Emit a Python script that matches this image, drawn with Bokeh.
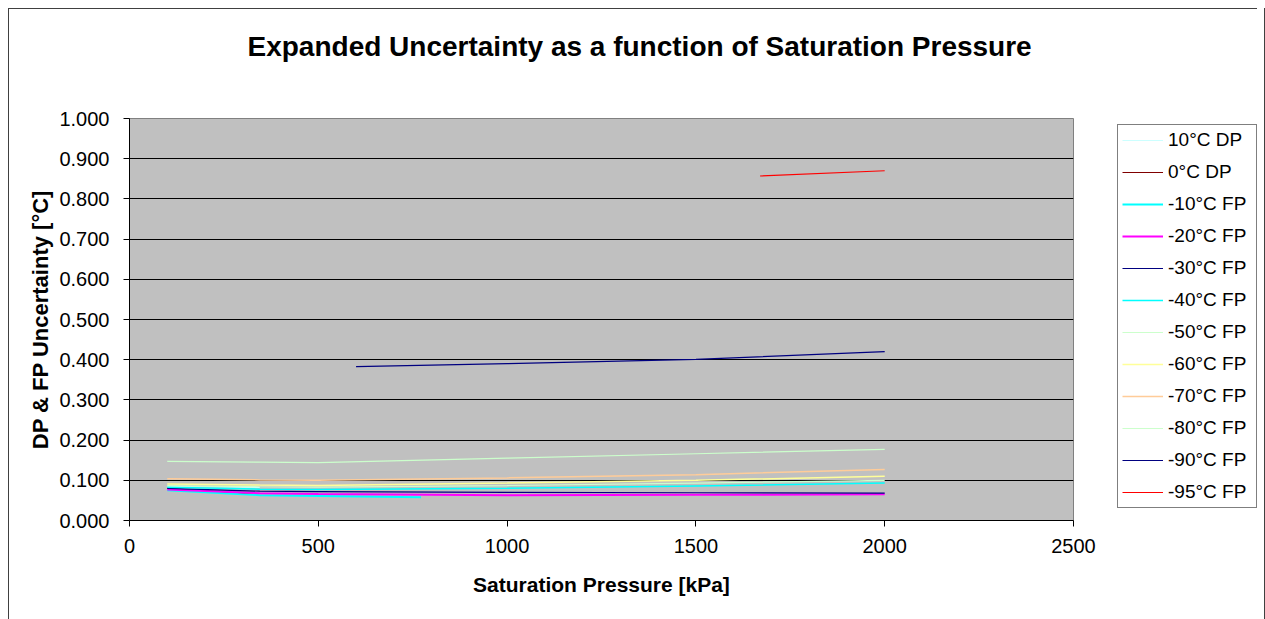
from bokeh.plotting import figure
from bokeh.models import (Range1d, NumeralTickFormatter, FixedTicker, Legend, LegendItem, Title)
from bokeh.layouts import row
from bokeh.embed import file_html
from bokeh.resources import INLINE

# ---------------- data ----------------
chart_title = "Expanded Uncertainty as a function of Saturation Pressure"
series_names = ["10°C DP", "0°C DP", "-10°C FP", "-20°C FP", "-30°C FP", "-40°C FP",
                "-50°C FP", "-60°C FP", "-70°C FP", "-80°C FP", "-90°C FP", "-95°C FP"]

x_10dp = [100, 345]
y_10dp = [0.085, 0.082]
x_0dp = [100, 328]
y_0dp = [0.080, 0.065]
x_m10 = [100, 345, 772]
y_m10 = [0.075, 0.063, 0.058]
x_std = [100, 345, 500, 1000, 1500, 2000]
y_m20 = [0.077, 0.068, 0.066, 0.063, 0.064, 0.065]
y_m30 = [0.080, 0.073, 0.072, 0.070, 0.069, 0.068]
y_m40 = [0.083, 0.078, 0.077, 0.080, 0.086, 0.093]
y_m50 = [0.087, 0.084, 0.083, 0.087, 0.093, 0.100]
y_m60 = [0.091, 0.088, 0.087, 0.093, 0.100, 0.110]
y_m70 = [0.104, 0.101, 0.100, 0.106, 0.114, 0.127]
y_m80 = [0.147, 0.145, 0.144, 0.155, 0.166, 0.177]
x_m90 = [600, 1000, 1500, 2000]
y_m90 = [0.383, 0.390, 0.401, 0.420]
x_m95 = [1670, 2000]
y_m95 = [0.857, 0.870]

y_ticks = [0.0, 0.1, 0.2, 0.3, 0.4, 0.5, 0.6, 0.7, 0.8, 0.9, 1.0]
x_ticks = [0, 500, 1000, 1500, 2000, 2500]

xs = [x_10dp, x_0dp, x_m10, x_std, x_std, x_std, x_std, x_std, x_std, x_std, x_m90, x_m95]
ys = [y_10dp, y_0dp, y_m10, y_m20, y_m30, y_m40, y_m50, y_m60, y_m70, y_m80, y_m90, y_m95]
colors = ["#CCFFFF", "#800000", "#00FFFF", "#FF00FF", "#000080", "#00FFFF",
          "#CCFFCC", "#FFFF99", "#FFCC99", "#CCFFCC", "#000080", "#FF0000"]
widths = [1, 1.2, 2, 2, 1.2, 1.5, 1.2, 1.5, 1.5, 1.2, 1.2, 1.2]

FONT = "Liberation Sans"
BORDER = "linear-gradient(#404040,#404040)"

# ---------------- main chart ----------------
p = figure(width=1100, height=619, output_backend="svg", toolbar_location=None,
           x_range=Range1d(0, 2500), y_range=Range1d(0, 1.0),
           min_border_left=129, min_border_right=27, min_border_top=118,
           min_border_bottom=99, title=None)

p.border_fill_color = None
p.styles = {
    "background-color": "white",
    "background-image": f"{BORDER}, {BORDER}",
    "background-size": "1px 611px, 1092px 1px",
    "background-position": "8px 8px, 8px 8px",
    "background-repeat": "no-repeat",
}

# spacer between frame and title (closest to frame), then the title above it
top_spacer = Title(text=" ", text_font_size="10px", standoff=44)
p.add_layout(top_spacer, "above")
main_title = Title(text=chart_title, align="left", offset=118, standoff=0,
                   text_font=FONT, text_font_size="28px", text_font_style="bold",
                   text_color="black")
p.add_layout(main_title, "above")

p.background_fill_color = "#C0C0C0"
p.outline_line_color = "#808080"
p.outline_line_width = 1

p.xgrid.grid_line_color = None
p.ygrid.grid_line_color = "black"
p.ygrid.grid_line_width = 1

p.yaxis.ticker = FixedTicker(ticks=y_ticks)
p.xaxis.ticker = FixedTicker(ticks=x_ticks)
p.yaxis.formatter = NumeralTickFormatter(format="0.000")

for ax in (p.xaxis[0], p.yaxis[0]):
    ax.axis_line_color = "black"
    ax.major_tick_line_color = "black"
    ax.major_tick_out = 6
    ax.major_tick_in = 0
    ax.minor_tick_line_color = None
    ax.major_label_text_font = FONT
    ax.major_label_text_font_size = "20px"
    ax.major_label_text_color = "black"
    ax.axis_label_text_font = FONT
    ax.axis_label_text_font_style = "bold"
    ax.axis_label_text_color = "black"

p.yaxis.axis_label = "DP & FP Uncertainty [°C]"
p.xaxis.axis_label = "Saturation Pressure [kPa]"
p.yaxis.axis_label_text_font_size = "22px"
p.xaxis.axis_label_text_font_size = "21px"
p.yaxis.major_label_standoff = 14
p.yaxis.axis_label_standoff = 3
p.xaxis.major_label_standoff = 12
p.xaxis.axis_label_standoff = 17

for x, y, c, w in zip(xs, ys, colors, widths):
    p.line(x, y, line_color=c, line_width=w)

# ---------------- legend panel (right side of the chart) ----------------
# its frame is aligned with the main frame by the row layout (y 118..520)
q = figure(width=165, height=619, output_backend="svg", toolbar_location=None,
           x_range=Range1d(-1, 0), y_range=Range1d(0, 1),
           x_axis_type=None, y_axis_type=None,
           min_border_left=0, min_border_right=0, min_border_top=0,
           min_border_bottom=0)
q.grid.visible = False
q.outline_line_color = None
q.background_fill_color = None
q.border_fill_color = None
q.styles = {
    "background-color": "white",
    "background-image": f"{BORDER}, {BORDER}",
    "background-size": "157px 1px, 1px 611px",
    "background-position": "0px 8px, 164px 8px",
    "background-repeat": "no-repeat",
}

items = []
for name, x, y, c, w in zip(series_names, xs, ys, colors, widths):
    # same series, outside this panel's visible range: only its legend swatch shows
    r = q.line(x, y, line_color=c, line_width=w)
    items.append(LegendItem(label=name, renderers=[r]))

legend = Legend(items=items, location=(17, 12))
legend.label_text_font = FONT
legend.label_text_font_size = "19px"
legend.label_text_color = "black"
legend.glyph_width = 41
legend.glyph_height = 20
legend.label_height = 20
legend.label_width = 84
legend.label_standoff = 5
legend.spacing = 10
legend.padding = 4
legend.margin = 0
legend.border_line_color = "black"
legend.border_line_width = 1
legend.background_fill_color = "white"
legend.background_fill_alpha = 1.0
q.add_layout(legend, "center")

layout = row(p, q, spacing=0)
open("out.html", "w").write(file_html(layout, INLINE))
